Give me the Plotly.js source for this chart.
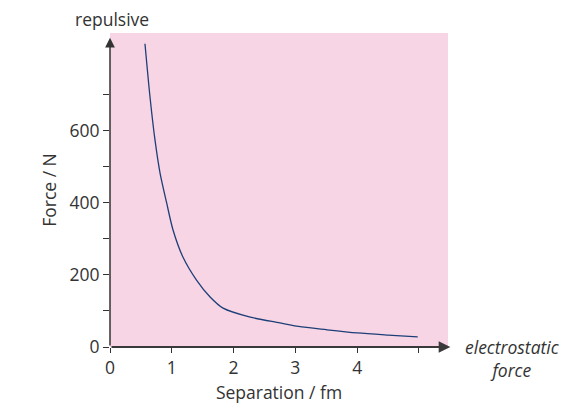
<!DOCTYPE html>
<html>
<head>
<meta charset="utf-8">
<script src="https://cdn.plot.ly/plotly-3.0.1.min.js"></script>
<style>html,body{margin:0;padding:0;background:#fff;}#chart{width:577px;height:407px;}</style>
</head>
<body>
<div id="chart"></div>
<script>
const separation = [0.566, 0.647, 0.728, 0.81, 0.917, 1.02, 1.18, 1.40, 1.62, 1.83, 2.27, 2.75, 3.05, 3.5, 4.0, 4.5, 4.98];
const force = [842, 695, 575, 483, 400, 325, 250, 186, 139, 108, 83, 67, 57, 48, 39, 33, 28];
const xTickVals = [0, 1, 2, 3, 4, 5];
const xTickText = ['0', '1', '2', '3', '4', ''];
const yTickVals = [0, 100, 200, 300, 400, 500, 600, 700];
const yTickText = ['0', '', '200', '', '400', '', '600', ''];

const font = 'Open Sans, Noto Sans, sans-serif';
const txt = '#333333';
const fs = 17.5;

const trace = {
  x: separation, y: force, type: 'scatter', mode: 'lines',
  line: {color: '#1d3f78', width: 1.3, shape: 'spline', smoothing: 0.8},
  hoverinfo: 'skip'
};

const layout = {
  width: 577, height: 407,
  margin: {l: 110, r: 129, t: 33, b: 60},
  paper_bgcolor: '#ffffff',
  plot_bgcolor: '#f8d5e5',
  showlegend: false,
  font: {family: font, color: txt, size: fs},
  xaxis: {
    range: [0, 5.47], showgrid: false, zeroline: false, showline: false,
    tickmode: 'array', tickvals: xTickVals, ticktext: xTickText,
    ticks: 'outside', ticklen: 5, tickcolor: '#333', tickwidth: 1,
    tickfont: {size: fs, color: txt, family: font},
    title: {text: 'Separation / fm', font: {size: fs, color: txt, family: font}, standoff: 8},
    fixedrange: true
  },
  yaxis: {
    range: [0, 872], showgrid: false, zeroline: false, showline: false,
    tickmode: 'array', tickvals: yTickVals, ticktext: yTickText,
    ticks: 'outside', ticklen: 6, tickcolor: '#333', tickwidth: 1,
    tickfont: {size: fs, color: txt, family: font},
    title: {text: 'Force / N', font: {size: fs, color: txt, family: font}, standoff: 8},
    fixedrange: true
  },
  annotations: [
    {xref: 'paper', yref: 'paper', x: 1.007, y: 0, ax: 0, ay: 0, axref: 'paper', ayref: 'paper',
     showarrow: true, arrowhead: 2, arrowsize: 1.3, arrowwidth: 1.8, arrowcolor: '#3a3a3a', text: '', standoff: 0},
    {xref: 'paper', yref: 'paper', x: 0, y: 0.985, ax: 0, ay: 0, axref: 'paper', ayref: 'paper',
     showarrow: true, arrowhead: 2, arrowsize: 1.3, arrowwidth: 1.5, arrowcolor: '#333', text: '', standoff: 0},
    {xref: 'paper', yref: 'paper', x: 0.006, y: 1.0, yshift: 14, xanchor: 'center', yanchor: 'middle',
     showarrow: false, text: 'repulsive', font: {size: fs, color: txt, family: font}},
    {xref: 'paper', yref: 'paper', x: 1.0, xshift: 64, y: 0, yshift: -11, yanchor: 'middle', xanchor: 'center',
     showarrow: false, text: '<i>electrostatic<br>force</i>', align: 'center',
     font: {size: fs, color: txt, family: font}}
  ]
};

Plotly.newPlot('chart', [trace], layout, {staticPlot: true, displayModeBar: false});
</script>
</body>
</html>
